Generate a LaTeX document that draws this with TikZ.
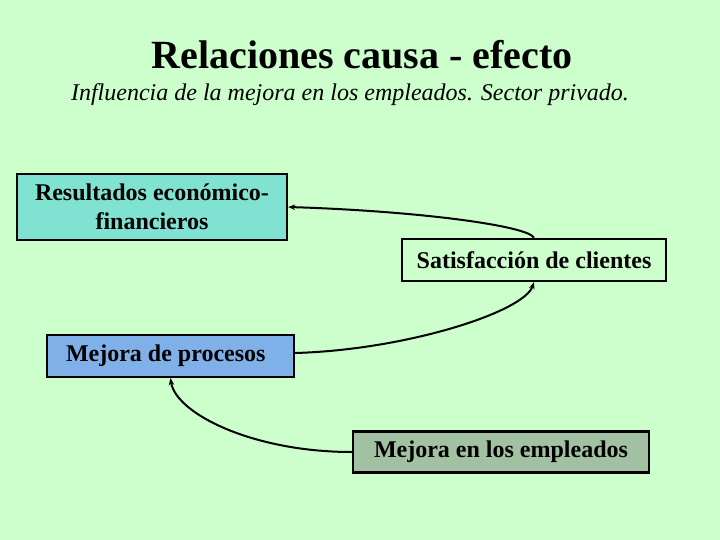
\documentclass[tikz,border=0pt]{standalone}
\usepackage{fontspec}
\setmainfont{Liberation Serif}
\usetikzlibrary{arrows.meta}

\definecolor{fondo}{RGB}{204,255,204}
\definecolor{resultados}{RGB}{128,226,208}
\definecolor{procesos}{RGB}{128,176,232}
\definecolor{empleados}{RGB}{162,192,162}

\begin{document}
\begin{tikzpicture}[
        x=1pt, y=-1pt,
        caja/.style={draw, line width=2.2pt, inner sep=0pt, minimum height=42pt, align=center,
            font=\fontsize{24}{28.8}\selectfont\bfseries},
        flecha/.style={-{Stealth[length=7pt, width=5.5pt]}, line width=2pt}
    ]
        % Fondo
        \fill[fondo] (0,0) rectangle (720,540);
        \useasboundingbox (0,0) rectangle (720,540);

        % Titulo
        \node[font=\fontsize{40}{48}\selectfont\bfseries, anchor=base] (titulo) at (362,69) {Relaciones causa - efecto};
        \node[font=\fontsize{24}{28.8}\selectfont\itshape, anchor=base] (subtitulo) at (350,101) {Influencia de la mejora en los empleados. Sector privado.};

        % Cajas
        \node[caja, fill=resultados, minimum width=270pt, minimum height=66pt] (res) at (152,207) {Resultados económico-\\financieros};
        \node[caja, fill=fondo, minimum width=264pt] (sat) at (534,260) {Satisfacción de clientes};
        \node[caja, fill=procesos, minimum width=247pt, text width=209pt, align=flush left, inner xsep=19pt] (proc) at (170.5,356) {Mejora de procesos};
        \node[caja, fill=empleados, minimum width=296pt, minimum height=41pt] (emp) at (501,452) {Mejora en los empleados};

        % Flechas
        \draw[flecha] (sat.north) .. controls +(-5,-12) and +(130,4) .. (res.east);
        \draw[flecha] ([yshift=3pt]proc.east) .. controls +(110,-3) and +(-10,30) .. (sat.south);
        \draw[flecha] (emp.west) .. controls +(-100,0) and +(5,35) .. (proc.south);
    \end{tikzpicture}
\end{document}
